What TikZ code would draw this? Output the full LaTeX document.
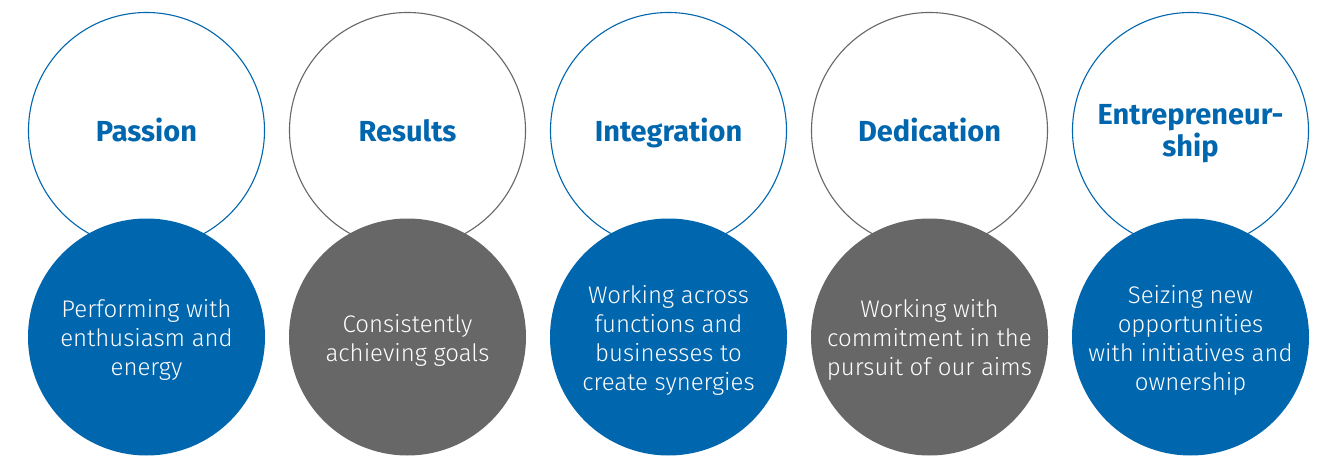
\documentclass[tikz,border=0pt]{standalone}
\usepackage{fontspec}
\setmainfont{Fira Sans}
\newfontfamily\valuelight{Fira Sans Light}
\definecolor{valueblue}{RGB}{0,102,174}
\definecolor{valuegray}{RGB}{103,103,103}
\tikzset{
  ring/.style={circle, draw, fill=white, line width=1.1pt, minimum size=236pt, inner sep=0pt},
  disc/.style={circle, minimum size=237pt, inner sep=0pt},
  valuename/.style={align=center, text=valueblue, font=\fontsize{29}{32}\selectfont\bfseries,
    yshift=-4.5pt, execute at begin node=\strut, execute at end node=\strut},
  valuetext/.style={align=center, text=white, font=\valuelight\fontsize{24}{29}\selectfont,
    yshift=-5pt, execute at begin node=\strut, execute at end node=\strut}
}
\begin{document}
\begin{tikzpicture}[x=1pt, y=1pt]
      \useasboundingbox (0,0) rectangle (1331,456);
      \draw
        (146.5,325.5) node[ring, draw=valueblue] (passion){}
        (407.5,325.5) node[ring, draw=valuegray] (results){}
        (668.5,325.5) node[ring, draw=valueblue] (integration){}
        (929.5,325.5) node[ring, draw=valuegray] (dedication){}
        (1190.5,325.5) node[ring, draw=valueblue] (entrepreneurship){};
      \draw
        (146.5,119) node[disc, fill=valueblue] (passiondisc){}
        (407.5,119) node[disc, fill=valuegray] (resultsdisc){}
        (668.5,119) node[disc, fill=valueblue] (integrationdisc){}
        (929.5,119) node[disc, fill=valuegray] (dedicationdisc){}
        (1190.5,119) node[disc, fill=valueblue] (entrepreneurshipdisc){};
      \begin{scope}
        \node[valuename] (passionname) at (passion.center) {Passion};
        \node[valuename] (resultsname) at (results.center) {Results};
        \node[valuename] (integrationname) at (integration.center) {Integration};
        \node[valuename] (dedicationname) at (dedication.center) {Dedication};
        \node[valuename] (entrepreneurshipname) at (entrepreneurship.center) {Entrepreneur-\\ship};
        \node[valuetext] (passiontext) at (passiondisc.center) {Performing with\\enthusiasm and\\energy};
        \node[valuetext] (resultstext) at (resultsdisc.center) {Consistently\\achieving goals};
        \node[valuetext] (integrationtext) at (integrationdisc.center) {Working across\\functions and\\businesses to\\create synergies};
        \node[valuetext] (dedicationtext) at (dedicationdisc.center) {Working with\\commitment in the\\pursuit of our aims};
        \node[valuetext] (entrepreneurshiptext) at (entrepreneurshipdisc.center) {Seizing new\\opportunities\\with initiatives and\\ownership};
      \end{scope}
    \end{tikzpicture}
\end{document}
